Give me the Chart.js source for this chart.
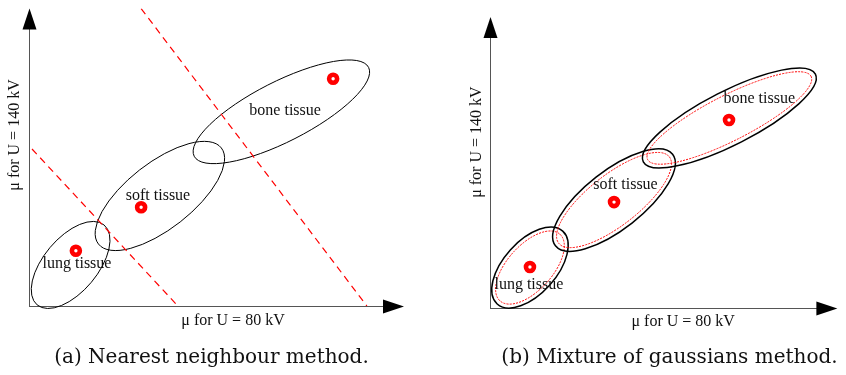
<!DOCTYPE html>
<html>
<head>
<meta charset="utf-8">
<script src="https://cdn.jsdelivr.net/npm/chart.js@4.4.1/dist/chart.umd.min.js"></script>
<style>
  body { margin: 0; background: #fff; width: 846px; height: 375px; position: relative; overflow: hidden; }
  canvas { position: absolute; top: 0; }
  #panel-a { left: 0; }
  #panel-b { left: 423px; }
  .caption { position: absolute; top: 347px; width: 423px; text-align: center;
             font-family: "DejaVu Serif", serif; font-size: 20px; line-height: 19px; color: #111; }
  #cap-a { left: 0; }
  #cap-b { left: 458px; }
</style>
</head>
<body>
<canvas id="panel-a" width="423" height="375"></canvas>
<canvas id="panel-b" width="423" height="375"></canvas>
<div class="caption" id="cap-a">(a) Nearest neighbour method.</div>
<div class="caption" id="cap-b">(b) Mixture of gaussians method.</div>
<script>
const tissues = ['lung tissue', 'soft tissue', 'bone tissue'];
const xTitle = 'μ for U = 80 kV';
const yTitle = 'μ for U = 140 kV';

// (a) nearest neighbour: class means, drawn ellipses, decision boundaries
const nnMeanX = [12.5, 29.9, 81.1];
const nnMeanY = [18.6, 33.2, 76.4];
const nnEllX = [11.1, 34.9, 67.3];
const nnEllY = [13.8, 37.0, 65.3];
const nnEllA = [13.9, 20.8, 26.1];
const nnEllB = [7.2, 8.8, 8.0];
const nnEllAngle = [50, 38, 27];
const nnLabelX = [12.8, 34.4, 68.3];
const nnLabelY = [14.3, 37.2, 65.8];
const nnBoundX = [[0.8, 39.7], [29.9, 90.1]];
const nnBoundY = [[52.8, 0], [100, 0]];

// (b) mixture of gaussians: means, component ellipses (outer black, inner red)
const gmMeanX = [11.5, 35.7, 68.8];
const gmMeanY = [14.1, 36.4, 64.6];
const gmEllX = [11.5, 35.7, 68.9];
const gmEllY = [13.9, 37.1, 65.3];
const gmEllA = [14.1, 21.4, 27.8];
const gmEllB = [7.6, 8.4, 7.7];
const gmInnerA = [12.9, 20.2, 26.4];
const gmInnerB = [6.5, 7.3, 6.5];
const gmEllAngle = [48, 38, 27];
const gmLabelX = [11.2, 39.0, 77.5];
const gmLabelY = [7.9, 42.3, 71.8];

document.addEventListener('DOMContentLoaded', () => {
  const RED = '#ff0000';
  const FONT = '16px "Liberation Serif", "Times New Roman", serif';

  function shapesPlugin(panel) {
    return {
      id: 'tissueShapes',
      beforeDatasetsDraw(chart) {
        const { ctx, chartArea, scales: { x, y } } = chart;
        const unit = x.getPixelForValue(1) - x.getPixelForValue(0);
        const left = chartArea.left, bottom = chartArea.bottom;

        // axes with arrow heads
        ctx.save();
        ctx.strokeStyle = '#555';
        ctx.lineWidth = 1;
        ctx.beginPath();
        ctx.moveTo(left + 0.5, bottom);
        ctx.lineTo(left + 0.5, chartArea.top + 20);
        ctx.moveTo(left, bottom + 0.5);
        ctx.lineTo(chartArea.right - 20, bottom + 0.5);
        ctx.stroke();
        ctx.fillStyle = '#000';
        ctx.beginPath();
        ctx.moveTo(left + 0.5, chartArea.top);
        ctx.lineTo(left - 6.5, chartArea.top + 21);
        ctx.lineTo(left + 7.5, chartArea.top + 21);
        ctx.closePath();
        ctx.fill();
        ctx.beginPath();
        ctx.moveTo(chartArea.right, bottom + 0.5);
        ctx.lineTo(chartArea.right - 21, bottom - 6.5);
        ctx.lineTo(chartArea.right - 21, bottom + 7.5);
        ctx.closePath();
        ctx.fill();

        // ellipses
        const drawEll = (cx, cy, a, b, ang, color, width, dash) => {
          ctx.strokeStyle = color;
          ctx.lineWidth = width;
          ctx.setLineDash(dash);
          ctx.beginPath();
          ctx.ellipse(x.getPixelForValue(cx), y.getPixelForValue(cy), a * unit, b * unit,
            -ang * Math.PI / 180, 0, Math.PI * 2);
          ctx.stroke();
        };
        panel.ellX.forEach((cx, i) => {
          drawEll(cx, panel.ellY[i], panel.ellA[i], panel.ellB[i], panel.ellAngle[i], '#000', panel.ellWidth, []);
          if (panel.innerA) {
            drawEll(cx, panel.ellY[i], panel.innerA[i], panel.innerB[i], panel.ellAngle[i], RED, 1, [2, 1.2]);
          }
        });
        ctx.restore();
      },
      afterDatasetsDraw(chart) {
        const { ctx, chartArea, scales: { x, y } } = chart;
        ctx.save();
        ctx.fillStyle = '#111';
        ctx.font = FONT;
        ctx.textAlign = 'center';
        ctx.textBaseline = 'middle';
        tissues.forEach((t, i) => {
          ctx.fillText(t, x.getPixelForValue(panel.labelX[i]), y.getPixelForValue(panel.labelY[i]));
        });
        // axis titles
        ctx.fillText(xTitle, x.getPixelForValue(panel.xTitleAt), chartArea.bottom + panel.xTitleGap);
        ctx.translate(chartArea.left - panel.yTitleGap, y.getPixelForValue(panel.yTitleAt));
        ctx.rotate(-Math.PI / 2);
        ctx.fillText(yTitle, 0, 0);
        ctx.restore();
      }
    };
  }

  function makeChart(id, panel, padding) {
    const datasets = [];
    (panel.boundX || []).forEach((bx, i) => {
      datasets.push({
        data: bx.map((v, j) => ({ x: v, y: panel.boundY[i][j] })),
        showLine: true,
        borderColor: RED,
        borderWidth: 1.2,
        borderDash: [7, 5],
        pointRadius: 0
      });
    });
    datasets.push({
      data: panel.meanX.map((v, i) => ({ x: v, y: panel.meanY[i] })),
      pointRadius: 4,
      pointBorderWidth: 4.6,
      pointBackgroundColor: '#fff',
      pointBorderColor: RED
    });

    new Chart(document.getElementById(id), {
      type: 'scatter',
      data: { datasets },
      options: {
        responsive: false,
        animation: false,
        layout: { padding },
        plugins: { legend: { display: false }, tooltip: { enabled: false } },
        scales: {
          x: { type: 'linear', min: 0, max: 100, display: false },
          y: { type: 'linear', min: 0, max: 100, display: false }
        }
      },
      plugins: [shapesPlugin(panel)]
    });
  }

  makeChart('panel-a', {
    meanX: nnMeanX, meanY: nnMeanY,
    ellX: nnEllX, ellY: nnEllY, ellA: nnEllA, ellB: nnEllB, ellAngle: nnEllAngle, ellWidth: 1,
    labelX: nnLabelX, labelY: nnLabelY,
    boundX: nnBoundX, boundY: nnBoundY,
    xTitleAt: 54.4, xTitleGap: 15, yTitleAt: 57.5, yTitleGap: 14
  }, { left: 29, right: 19, top: 5, bottom: 69 });

  makeChart('panel-b', {
    meanX: gmMeanX, meanY: gmMeanY,
    ellX: gmEllX, ellY: gmEllY, ellA: gmEllA, ellB: gmEllB, ellAngle: gmEllAngle, ellWidth: 1.5,
    innerA: gmInnerA, innerB: gmInnerB,
    labelX: gmLabelX, labelY: gmLabelY,
    xTitleAt: 55.6, xTitleGap: 14, yTitleAt: 57.0, yTitleGap: 13
  }, { left: 67, right: 0, top: 17, bottom: 67 });
});
</script>
</body>
</html>
